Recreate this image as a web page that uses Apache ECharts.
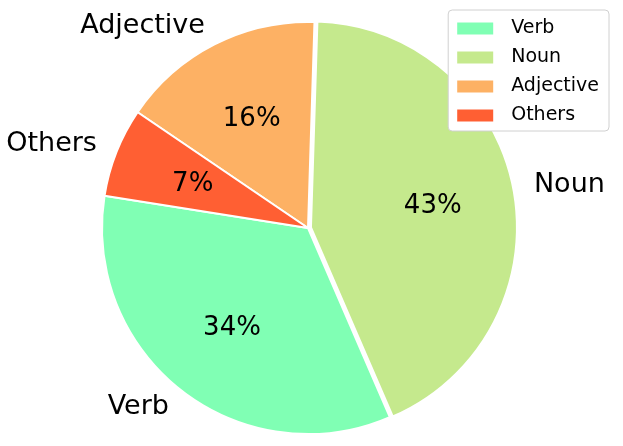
<!DOCTYPE html>
<html>
<head>
<meta charset="utf-8">
<script src="https://cdn.jsdelivr.net/npm/echarts@6/dist/echarts.min.js"></script>
<style>
  html, body { margin: 0; padding: 0; background: #fff; }
  #main { width: 623px; height: 446px; }
</style>
</head>
<body>
<div id="main"></div>
<script>
  // 词性分布
  const categories = ['Verb', 'Noun', 'Adjective', 'Others'];
  const shares = [34, 43, 16, 7];
  const colors = ['#80FFB4', '#C5E98D', '#FDB164', '#FF5F33'];
  const exploded = 'Noun';

  let chart = echarts.init(document.getElementById('main'));
  const font = 'DejaVu Sans';
  const R = 206;
  const center = [308, 228];

  const pieData = categories.map((name, i) => ({
    name: name,
    value: shares[i],
    selected: name === exploded
  }));

  let option = {
    animation: false,
    color: colors,
    legend: {
      data: categories,
      orient: 'vertical',
      right: 14,
      top: 10,
      itemWidth: 38,
      itemHeight: 14,
      itemGap: 10,
      icon: 'rect',
      padding: [9, 10, 6, 7],
      backgroundColor: '#fff',
      borderColor: '#d0d0d0',
      borderWidth: 1,
      borderRadius: 4,
      selectedMode: false,
      textStyle: { fontFamily: font, fontSize: 19, color: '#000', padding: [0, 0, 0, 12] }
    },
    series: [
      {
        name: 'main',
        type: 'pie',
        center: center,
        radius: [0, R],
        startAngle: 171,
        clockwise: false,
        selectedMode: 'single',
        selectedOffset: 3,
        avoidLabelOverlap: false,
        itemStyle: { borderColor: '#fff', borderWidth: 2 },
        label: {
          show: true,
          position: 'outside',
          formatter: '{b}',
          fontFamily: font,
          fontSize: 27,
          color: '#000',
          distanceToLabelLine: 0
        },
        labelLine: { show: false, length: 21, length2: 0 },
        emphasis: { disabled: true },
        data: pieData
      },
      {
        name: 'pct',
        type: 'pie',
        center: [center[0], center[1] + 2],
        radius: [60, 182],
        startAngle: 171,
        clockwise: false,
        silent: true,
        selectedMode: 'single',
        selectedOffset: 3,
        avoidLabelOverlap: false,
        itemStyle: { color: 'rgba(0,0,0,0)', borderWidth: 0 },
        label: {
          show: true,
          position: 'inside',
          formatter: '{d}%',
          fontFamily: font,
          fontSize: 26,
          color: '#000'
        },
        labelLine: { show: false },
        emphasis: { disabled: true },
        tooltip: { show: false },
        data: pieData
      }
    ]
  };
  chart.setOption(option);
  window.onresize = chart.resize;
</script>
</body>
</html>
